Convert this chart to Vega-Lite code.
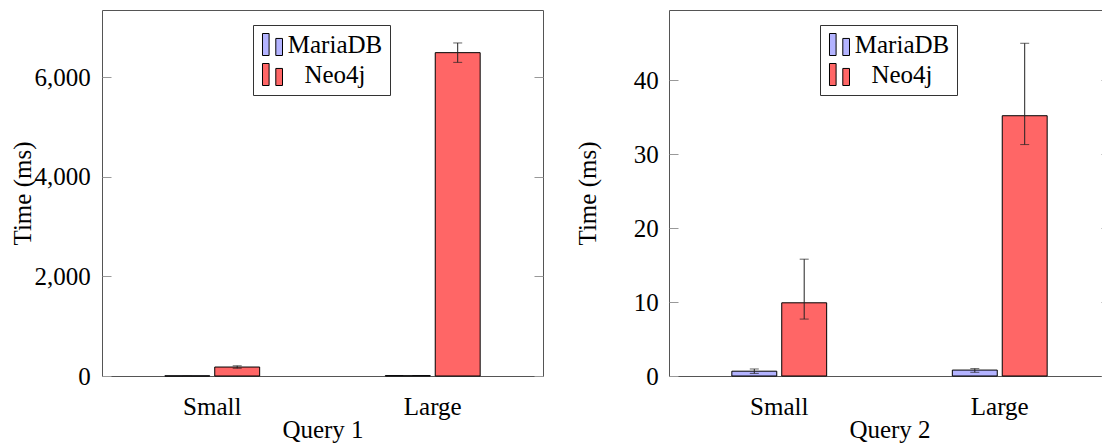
{
  "$schema": "https://vega.github.io/schema/vega-lite/v6.json",
  "padding": {"left": 9, "top": 9, "right": 0, "bottom": 0},
  "background": "white",
  "bounds": "flush",
  "spacing": 126,
  "config": {
    "font": "Liberation Serif",
    "view": {"stroke": "#555555", "strokeWidth": 1},
    "axis": {"labelFontSize": 25, "titleFontSize": 25, "titleFontWeight": "normal", "labelColor": "black", "titleColor": "black", "grid": false, "domain": false},
    "legend": {"labelFontSize": 25, "labelColor": "black"}
  },
  "resolve": {"legend": {"color": "independent"}},
  "datasets": {
    "q1": [
      {"size": "Small", "db": "MariaDB", "time": 3, "lo": 2, "hi": 4},
      {"size": "Small", "db": "Neo4j", "time": 180, "lo": 155, "hi": 205},
      {"size": "Large", "db": "MariaDB", "time": 8, "lo": 6, "hi": 10},
      {"size": "Large", "db": "Neo4j", "time": 6495, "lo": 6300, "hi": 6690}
    ],
    "q2": [
      {"size": "Small", "db": "MariaDB", "time": 0.65, "lo": 0.35, "hi": 0.95},
      {"size": "Small", "db": "Neo4j", "time": 9.9, "lo": 7.7, "hi": 15.8},
      {"size": "Large", "db": "MariaDB", "time": 0.8, "lo": 0.5, "hi": 1.0},
      {"size": "Large", "db": "Neo4j", "time": 35.2, "lo": 31.3, "hi": 45.0}
    ]
  },
  "hconcat": [
    {
      "width": 441,
      "height": 366,
      "data": {"name": "q1"},
      "encoding": {
        "x": {"field": "size", "type": "nominal", "sort": ["Small", "Large"], "scale": {"paddingInner": 0.57, "paddingOuter": 0.285},
          "axis": {"title": "Query 1", "ticks": false, "labelAngle": 0, "labelBaseline": "alphabetic", "labelPadding": 38.3, "titleBaseline": "alphabetic", "titleY": 61.7}},
        "xOffset": {"field": "db", "type": "nominal", "sort": ["MariaDB", "Neo4j"], "scale": {"paddingInner": 0.1, "paddingOuter": 0}}
      },
      "layer": [
        {
          "mark": {"type": "bar", "stroke": "black", "strokeWidth": 1},
          "encoding": {
            "y": {"field": "time", "type": "quantitative", "scale": {"domain": [0, 7352], "nice": false, "zero": true},
              "axis": {"orient": "left", "title": "Time (ms)", "values": [0, 2000, 4000, 6000], "format": ",d", "tickSize": -9, "tickColor": "#999999", "labelPadding": 20.7, "titleAngle": 270, "titleBaseline": "alphabetic", "titleAlign": "center", "titleX": -72, "titleY": 183}},
            "color": {"field": "db", "type": "nominal", "scale": {"domain": ["MariaDB", "Neo4j"], "range": ["#b3b3ff", "#ff6666"]},
              "legend": {"orient": "none", "legendX": 151, "legendY": 15, "title": null, "symbolType": "M-0.91,-1H-0.31V1H-0.91Z M0.3,-0.55H0.91V1H0.3Z", "symbolSize": 484, "symbolStrokeColor": "black", "symbolStrokeWidth": 1, "symbolOpacity": 1, "labelAlign": "center", "labelOffset": 50, "padding": 7, "rowPadding": 3, "strokeColor": "#333333", "fillColor": "white"}}
          }
        },
        {
          "mark": {"type": "rule", "color": "#222222", "strokeWidth": 1},
          "encoding": {
            "y": {"field": "lo", "type": "quantitative", "scale": {"domain": [0, 7352], "nice": false}, "axis": null},
            "y2": {"field": "hi"}
          }
        },
        {
          "mark": {"type": "tick", "color": "#222222", "thickness": 1, "size": 9, "orient": "horizontal"},
          "encoding": {
            "y": {"field": "lo", "type": "quantitative", "scale": {"domain": [0, 7352], "nice": false}, "axis": null}
          }
        },
        {
          "mark": {"type": "tick", "color": "#222222", "thickness": 1, "size": 9, "orient": "horizontal"},
          "encoding": {
            "y": {"field": "hi", "type": "quantitative", "scale": {"domain": [0, 7352], "nice": false},
              "axis": {"orient": "right", "title": null, "labels": false, "values": [0, 2000, 4000, 6000], "tickSize": -9, "tickColor": "#999999"}}
          }
        }
      ],
      "resolve": {"axis": {"y": "independent"}}
    },
    {
      "width": 441,
      "height": 366,
      "data": {"name": "q2"},
      "encoding": {
        "x": {"field": "size", "type": "nominal", "sort": ["Small", "Large"], "scale": {"paddingInner": 0.57, "paddingOuter": 0.285},
          "axis": {"title": "Query 2", "ticks": false, "labelAngle": 0, "labelBaseline": "alphabetic", "labelPadding": 38.3, "titleBaseline": "alphabetic", "titleY": 61.7}},
        "xOffset": {"field": "db", "type": "nominal", "sort": ["MariaDB", "Neo4j"], "scale": {"paddingInner": 0.1, "paddingOuter": 0}}
      },
      "layer": [
        {
          "mark": {"type": "bar", "stroke": "black", "strokeWidth": 1},
          "encoding": {
            "y": {"field": "time", "type": "quantitative", "scale": {"domain": [0, 49.5], "nice": false, "zero": true},
              "axis": {"orient": "left", "title": "Time (ms)", "values": [0, 10, 20, 30, 40], "format": "d", "tickSize": -9, "tickColor": "#999999", "labelPadding": 19.7, "titleAngle": 270, "titleBaseline": "alphabetic", "titleAlign": "center", "titleX": -74, "titleY": 183}},
            "color": {"field": "db", "type": "nominal", "scale": {"domain": ["MariaDB", "Neo4j"], "range": ["#b3b3ff", "#ff6666"]},
              "legend": {"orient": "none", "legendX": 151, "legendY": 15, "title": null, "symbolType": "M-0.91,-1H-0.31V1H-0.91Z M0.3,-0.55H0.91V1H0.3Z", "symbolSize": 484, "symbolStrokeColor": "black", "symbolStrokeWidth": 1, "symbolOpacity": 1, "labelAlign": "center", "labelOffset": 50, "padding": 7, "rowPadding": 3, "strokeColor": "#333333", "fillColor": "white"}}
          }
        },
        {
          "mark": {"type": "rule", "color": "#222222", "strokeWidth": 1},
          "encoding": {
            "y": {"field": "lo", "type": "quantitative", "scale": {"domain": [0, 49.5], "nice": false}, "axis": null},
            "y2": {"field": "hi"}
          }
        },
        {
          "mark": {"type": "tick", "color": "#222222", "thickness": 1, "size": 9, "orient": "horizontal"},
          "encoding": {
            "y": {"field": "lo", "type": "quantitative", "scale": {"domain": [0, 49.5], "nice": false}, "axis": null}
          }
        },
        {
          "mark": {"type": "tick", "color": "#222222", "thickness": 1, "size": 9, "orient": "horizontal"},
          "encoding": {
            "y": {"field": "hi", "type": "quantitative", "scale": {"domain": [0, 49.5], "nice": false},
              "axis": {"orient": "right", "title": null, "labels": false, "values": [0, 10, 20, 30, 40], "tickSize": -9, "tickColor": "#999999"}}
          }
        }
      ],
      "resolve": {"axis": {"y": "independent"}}
    }
  ]
}
